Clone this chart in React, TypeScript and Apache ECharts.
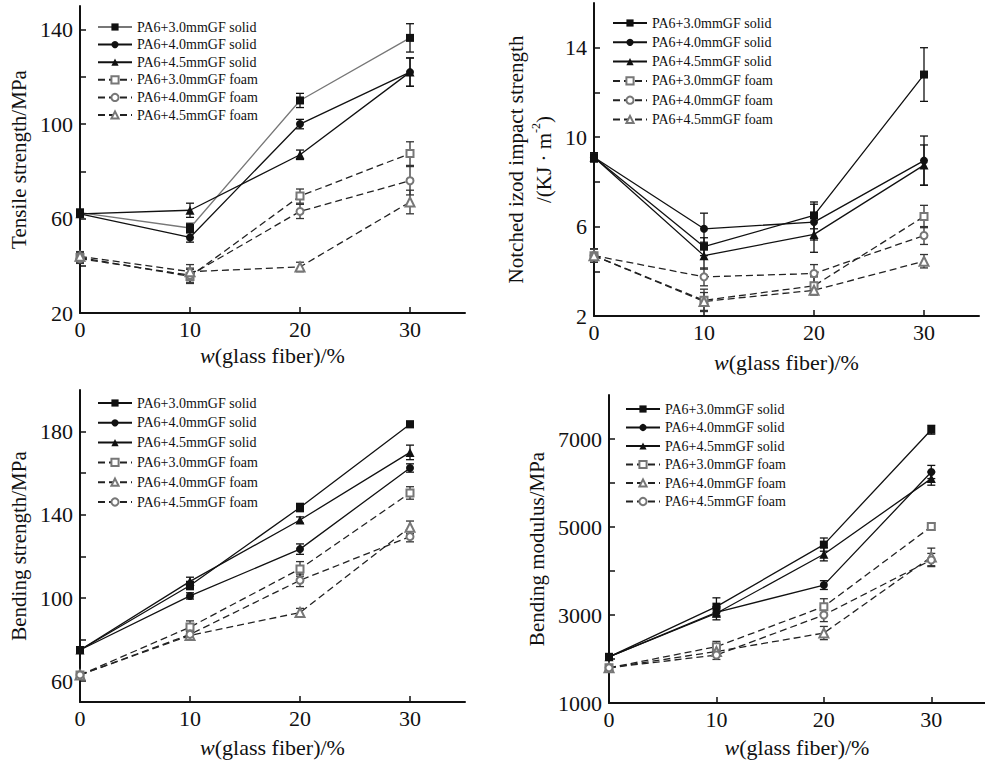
import React, { useEffect, useRef } from "react";
import * as echarts from "echarts";

// ---------- data ----------
const glassFiber = [0, 10, 20, 30];
const xTickValues = [0, 10, 20, 30];

const nameSolid30 = "PA6+3.0mmGF solid";
const nameSolid40 = "PA6+4.0mmGF solid";
const nameSolid45 = "PA6+4.5mmGF solid";
const nameFoam30 = "PA6+3.0mmGF foam";
const nameFoam40 = "PA6+4.0mmGF foam";
const nameFoam45 = "PA6+4.5mmGF foam";

// Tensile strength / MPa
const tensileSolid30 = [62.5, 56, 110, 136.5];
const tensileSolid40 = [62, 52, 100, 122];
const tensileSolid45 = [62, 63.5, 87, 122];
const tensileFoam30 = [43.5, 35.5, 69.5, 87.5];
const tensileFoam40 = [43, 36, 63, 76];
const tensileFoam45 = [44, 37.5, 39.5, 67];
const tensileSolid30Err = [1.5, 2, 3, 6];
const tensileSolid40Err = [1, 2, 2, 6];
const tensileSolid45Err = [1, 3, 2, 6];
const tensileFoam30Err = [2, 3, 3, 5];
const tensileFoam40Err = [2, 3, 3, 6];
const tensileFoam45Err = [2, 3, 2, 5];
const tensileTicks = [40, 60, 80, 100, 120, 140];
const tensileLabels = [20, 60, 100, 140];

// Notched izod impact strength / (KJ·m-2)
const impactSolid30 = [9.1, 5.1, 6.5, 12.8];
const impactSolid40 = [9.1, 5.9, 6.2, 8.95];
const impactSolid45 = [9.1, 4.7, 5.65, 8.75];
const impactFoam30 = [4.7, 2.7, 3.35, 6.45];
const impactFoam40 = [4.7, 3.75, 3.9, 5.6];
const impactFoam45 = [4.7, 2.65, 3.15, 4.45];
const impactSolid30Err = [0.2, 0.4, 0.6, 1.2];
const impactSolid40Err = [0.2, 0.7, 0.8, 1.1];
const impactSolid45Err = [0.2, 0.6, 0.8, 0.9];
const impactFoam30Err = [0.3, 0.5, 0.4, 0.5];
const impactFoam40Err = [0.3, 0.4, 0.4, 0.4];
const impactFoam45Err = [0.3, 0.4, 0.2, 0.3];
const impactTicks = [4, 6, 8, 10, 12, 14];
const impactLabels = [2, 6, 10, 14];

// Bending strength / MPa
const bendSolid30 = [75, 106, 143.5, 183.5];
const bendSolid40 = [75, 101, 123.5, 162.5];
const bendSolid45 = [75, 108, 137.5, 170];
const bendFoam30 = [63, 86, 114, 150.5];
const bendFoam40 = [63, 82, 93, 134];
const bendFoam45 = [63, 82.5, 108.5, 129.5];
const bendSolid30Err = [1, 2, 2, 1.5];
const bendSolid40Err = [1, 1.5, 2.5, 2];
const bendSolid45Err = [1, 2, 1.5, 3.5];
const bendFoam30Err = [1, 3, 3.5, 3];
const bendFoam40Err = [1, 2, 2, 3];
const bendFoam45Err = [1, 2, 3, 2.5];
const bendTicks = [60, 80, 100, 120, 140, 160, 180];
const bendLabels = [60, 100, 140, 180];

// Bending modulus / MPa
const modSolid30 = [2050, 3190, 4600, 7210];
const modSolid40 = [2050, 3060, 3680, 6250];
const modSolid45 = [2050, 3040, 4380, 6100];
const modFoam30 = [1800, 2280, 3190, 5010];
const modFoam40 = [1800, 2170, 2590, 4320];
const modFoam45 = [1800, 2090, 3000, 4250];
const modSolid30Err = [50, 200, 150, 100];
const modSolid40Err = [50, 100, 100, 150];
const modSolid45Err = [50, 150, 150, 150];
const modFoam30Err = [50, 120, 180, 80];
const modFoam40Err = [50, 100, 150, 200];
const modFoam45Err = [50, 100, 150, 150];
const modTicks = [2000, 3000, 4000, 5000, 6000, 7000];
const modLabels = [1000, 3000, 5000, 7000];

// ---------- styling ----------
const FONT = "Liberation Serif";
const INK = "#111";

type SeriesSpec = {
  name: string;
  values: number[];
  err: number[];
  foam: boolean;
  symbol: string;
  lineColor?: string;
};

type PanelSpec = {
  box: { left: number; top: number; width: number; height: number };
  grid: { left: number; top: number; width: number; height: number };
  yMin: number;
  yMax: number;
  yTicks: number[];
  yLabels: number[];
  yName: string;
  yRich: boolean;
  yNameGap: number;
  xNameGap: number;
  legend: { left: number; top: number; gap: number };
  series: SeriesSpec[];
};

function buildOption(p: PanelSpec): any {
  const series: any[] = [];
  p.series.forEach((s) => {
    const barColor = s.foam ? "#333" : INK;
    series.push({
      type: "custom",
      name: s.name + " error",
      silent: true,
      z: 2,
      data: glassFiber.map((x, i) => [x, s.values[i] - s.err[i], s.values[i] + s.err[i]]),
      encode: { x: 0, y: [1, 2] },
      renderItem: (_params: any, api: any) => {
        const x = api.value(0);
        const lo = api.coord([x, api.value(1)]);
        const hi = api.coord([x, api.value(2)]);
        const hw = 4;
        const style = { stroke: barColor, lineWidth: 1.3, fill: null };
        return {
          type: "group",
          children: [
            { type: "line", shape: { x1: lo[0], y1: lo[1], x2: hi[0], y2: hi[1] }, style },
            { type: "line", shape: { x1: lo[0] - hw, y1: lo[1], x2: lo[0] + hw, y2: lo[1] }, style },
            { type: "line", shape: { x1: hi[0] - hw, y1: hi[1], x2: hi[0] + hw, y2: hi[1] }, style },
          ],
        };
      },
    });
  });
  p.series.forEach((s) => {
    const isTri = s.symbol.toLowerCase().indexOf("triangle") >= 0;
    series.push({
      type: "line",
      name: s.name,
      z: 3,
      data: glassFiber.map((x, i) => [x, s.values[i]]),
      symbol: s.symbol,
      symbolSize: isTri ? 9 : s.foam ? 7 : 8,
      showAllSymbol: true,
      lineStyle: {
        color: s.lineColor || (s.foam ? "#222" : INK),
        width: 1.3,
        type: s.foam ? [7, 4] : "solid",
      },
      itemStyle: s.foam
        ? { color: "#777", borderColor: "#777", borderWidth: 1 }
        : { color: INK, borderColor: INK, borderWidth: 0 },
    });
  });

  const axisCommon = {
    axisLine: { show: true, lineStyle: { color: INK, width: 2 } },
    splitLine: { show: false },
  };

  const yNameStyle: any = p.yRich
    ? {
        rich: {
          a: { fontFamily: FONT, fontSize: 21, color: INK, lineHeight: 28 },
          s: { fontFamily: FONT, fontSize: 12, color: INK, verticalAlign: "top", lineHeight: 28 },
        },
      }
    : { fontFamily: FONT, fontSize: 21, color: INK };

  return {
    animation: false,
    backgroundColor: "#fff",
    textStyle: { fontFamily: FONT },
    grid: { ...p.grid, containLabel: false },
    legend: {
      data: p.series.map((s) => s.name),
      orient: "vertical",
      left: p.legend.left,
      top: p.legend.top,
      itemWidth: 34,
      itemHeight: 9,
      itemGap: p.legend.gap,
      selectedMode: false,
      padding: 0,
      textStyle: { fontFamily: FONT, fontSize: 14, color: INK, lineHeight: 14 },
    },
    xAxis: {
      type: "value",
      min: 0,
      max: 35,
      interval: 10,
      ...axisCommon,
      axisTick: { show: true, inside: true, length: 6, lineStyle: { color: INK, width: 1.5 }, customValues: xTickValues },
      axisLabel: {
        customValues: xTickValues,
        formatter: (v: number) => String(v),
        fontFamily: FONT,
        fontSize: 22,
        color: INK,
        margin: 5,
      },
      name: "{i|w}{n|(glass fiber)/%}",
      nameLocation: "middle",
      nameGap: p.xNameGap,
      nameTextStyle: {
        rich: {
          i: { fontFamily: FONT, fontSize: 22, fontStyle: "italic", color: INK },
          n: { fontFamily: FONT, fontSize: 22, color: INK },
        },
      },
    },
    yAxis: {
      type: "value",
      min: p.yMin,
      max: p.yMax,
      ...axisCommon,
      axisTick: { show: true, inside: true, length: 6, lineStyle: { color: INK, width: 1.5 }, customValues: p.yTicks },
      axisLabel: {
        customValues: p.yLabels,
        formatter: (v: number) => String(v),
        fontFamily: FONT,
        fontSize: 22,
        color: INK,
        margin: 7,
      },
      name: p.yName,
      nameLocation: "middle",
      nameGap: p.yNameGap,
      nameTextStyle: yNameStyle,
    },
    series,
  };
}

const panels: PanelSpec[] = [
  {
    box: { left: 0, top: 0, width: 490, height: 380 },
    grid: { left: 80, top: 6, width: 385, height: 307 },
    yMin: 20,
    yMax: 150,
    yTicks: tensileTicks,
    yLabels: tensileLabels,
    yName: "Tensile strength/MPa",
    yRich: false,
    yNameGap: 46,
    xNameGap: 26,
    legend: { left: 97, top: 20, gap: 3.6 },
    series: [
      { name: nameSolid30, values: tensileSolid30, err: tensileSolid30Err, foam: false, symbol: "rect", lineColor: "#777" },
      { name: nameSolid40, values: tensileSolid40, err: tensileSolid40Err, foam: false, symbol: "circle" },
      { name: nameSolid45, values: tensileSolid45, err: tensileSolid45Err, foam: false, symbol: "triangle" },
      { name: nameFoam30, values: tensileFoam30, err: tensileFoam30Err, foam: true, symbol: "emptyRect" },
      { name: nameFoam40, values: tensileFoam40, err: tensileFoam40Err, foam: true, symbol: "emptyCircle" },
      { name: nameFoam45, values: tensileFoam45, err: tensileFoam45Err, foam: true, symbol: "emptyTriangle" },
    ],
  },
  {
    box: { left: 490, top: 0, width: 495, height: 380 },
    grid: { left: 104, top: 3, width: 385, height: 313 },
    yMin: 2,
    yMax: 16,
    yTicks: impactTicks,
    yLabels: impactLabels,
    yName: "{a|Notched izod impact strength}\n{a|/(KJ · m}{s|-2}{a|)}",
    yRich: true,
    yNameGap: 31,
    xNameGap: 35,
    legend: { left: 122, top: 16, gap: 5.3 },
    series: [
      { name: nameSolid30, values: impactSolid30, err: impactSolid30Err, foam: false, symbol: "rect" },
      { name: nameSolid40, values: impactSolid40, err: impactSolid40Err, foam: false, symbol: "circle" },
      { name: nameSolid45, values: impactSolid45, err: impactSolid45Err, foam: false, symbol: "triangle" },
      { name: nameFoam30, values: impactFoam30, err: impactFoam30Err, foam: true, symbol: "emptyRect" },
      { name: nameFoam40, values: impactFoam40, err: impactFoam40Err, foam: true, symbol: "emptyCircle" },
      { name: nameFoam45, values: impactFoam45, err: impactFoam45Err, foam: true, symbol: "emptyTriangle" },
    ],
  },
  {
    box: { left: 0, top: 380, width: 490, height: 384 },
    grid: { left: 80, top: 10, width: 385, height: 312 },
    yMin: 50,
    yMax: 200,
    yTicks: bendTicks,
    yLabels: bendLabels,
    yName: "Bending strength/MPa",
    yRich: false,
    yNameGap: 43,
    xNameGap: 34,
    legend: { left: 97, top: 16, gap: 5.8 },
    series: [
      { name: nameSolid30, values: bendSolid30, err: bendSolid30Err, foam: false, symbol: "rect" },
      { name: nameSolid40, values: bendSolid40, err: bendSolid40Err, foam: false, symbol: "circle" },
      { name: nameSolid45, values: bendSolid45, err: bendSolid45Err, foam: false, symbol: "triangle" },
      { name: nameFoam30, values: bendFoam30, err: bendFoam30Err, foam: true, symbol: "emptyRect" },
      { name: nameFoam40, values: bendFoam40, err: bendFoam40Err, foam: true, symbol: "emptyTriangle" },
      { name: nameFoam45, values: bendFoam45, err: bendFoam45Err, foam: true, symbol: "emptyCircle" },
    ],
  },
  {
    box: { left: 490, top: 380, width: 495, height: 384 },
    grid: { left: 119, top: 15, width: 385, height: 308 },
    yMin: 1000,
    yMax: 8000,
    yTicks: modTicks,
    yLabels: modLabels,
    yName: "Bending modulus/MPa",
    yRich: false,
    yNameGap: 58,
    xNameGap: 33,
    legend: { left: 135, top: 22, gap: 4.5 },
    series: [
      { name: nameSolid30, values: modSolid30, err: modSolid30Err, foam: false, symbol: "rect" },
      { name: nameSolid40, values: modSolid40, err: modSolid40Err, foam: false, symbol: "circle" },
      { name: nameSolid45, values: modSolid45, err: modSolid45Err, foam: false, symbol: "triangle" },
      { name: nameFoam30, values: modFoam30, err: modFoam30Err, foam: true, symbol: "emptyRect" },
      { name: nameFoam40, values: modFoam40, err: modFoam40Err, foam: true, symbol: "emptyTriangle" },
      { name: nameFoam45, values: modFoam45, err: modFoam45Err, foam: true, symbol: "emptyCircle" },
    ],
  },
];

function Panel({ spec }: { spec: PanelSpec }) {
  const ref = useRef<HTMLDivElement | null>(null);
  useEffect(() => {
    if (!ref.current) return;
    const chart = echarts.init(ref.current, undefined, { renderer: "svg" });
    chart.setOption(buildOption(spec));
    return () => chart.dispose();
  }, [spec]);
  return (
    <div
      ref={ref}
      style={{
        position: "absolute",
        left: spec.box.left,
        top: spec.box.top,
        width: spec.box.width,
        height: spec.box.height,
      }}
    />
  );
}

export default function App() {
  return (
    <div
      style={{
        position: "fixed",
        left: 0,
        top: 0,
        width: 985,
        height: 764,
        background: "#fff",
        overflow: "hidden",
      }}
    >
      {panels.map((p, i) => (
        <Panel key={i} spec={p} />
      ))}
    </div>
  );
}
